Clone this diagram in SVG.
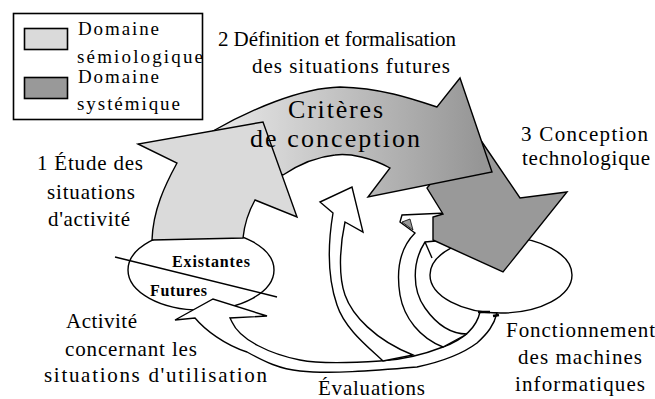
<svg xmlns="http://www.w3.org/2000/svg" width="655" height="399" viewBox="0 0 655 399">
<style>
text{font-family:'Liberation Serif','Times New Roman',serif;fill:#000}
.t{font-size:21px}
.lg{font-size:19px}
.b{font-size:16px;font-weight:bold}
.c{font-size:26px}
.o{stroke:#000;stroke-width:1.4;stroke-linejoin:miter}
.w{fill:#fff}
</style>
<defs>
<linearGradient id="g2" gradientUnits="userSpaceOnUse" x1="230" y1="0" x2="480" y2="0">
<stop offset="0" stop-color="#e4e4e4"/>
<stop offset="1" stop-color="#969696"/>
</linearGradient>
</defs>
<rect width="655" height="399" fill="#fff"/>

<g id="ellipse-situations">
<ellipse class="o w" cx="201" cy="270" rx="73" ry="40"/>
</g>
<g id="ellipse-machines">
<ellipse class="o w" cx="501" cy="275" rx="71" ry="38"/>
</g>

<g id="evaluations">
<path class="o w" d="M480,312 C476,330 462,340 443,347 C420,356 400,360 380,361 C350,363 320,364 300,360 C270,354 240,340 232,322 L230,318 L267,316 L213,299 L175,320 L195,318 C205,330 225,345 247,352 C265,362 280,369 300,371 C330,374 370,371 417,367 C445,361 465,352 477,343 C488,333 494,325 497,313 Z"/>
<path class="o w" d="M383,361 C372,350 345,330 337,305 C330,285 326,255 333,213 L320,202 L352,187 L363,232 L345,222 C340,245 338,275 345,295 C352,315 375,340 413,355 Z"/>
<path class="o w" d="M415,233 L400,222 L402,215 L446,213 L446,240 L425,242 C412,262 412,290 425,308 C437,325 452,334 467,334 L443,347 C420,338 404,318 400,295 C396,270 400,248 415,233 Z"/>
<path class="o" fill="none" d="M425,242 L432,258"/>
<path fill="#999" stroke="#000" stroke-width="0.8" d="M402,222 L410,219 L413,230 Z"/>
<path stroke="#000" stroke-width="2.6" d="M478,312 L490,312 M493,316 L499,315"/>
</g>

<g id="stage3">
<path class="o" fill="#999" d="M482,142 L520,198 L567,192 L503,272 L433,240 L433,217 L443,214 L427,188 L435,178 L470,128 Z"/>
</g>

<g id="stage2">
<path class="o" fill="url(#g2)" d="M240,160 L213,131 C250,110 300,88 340,87 C380,88 410,98 437,107 L460,78 L492,172 L368,197 L390,168 C372,158 350,153 335,155 C315,157 298,165 283,175 L260,165 Z"/>
</g>

<g id="stage1">
<path class="o" fill="#dadada" d="M152,240 L243,238 Q245,218 255,200 L297,217 L263,122 L138,144 L177,163 C165,185 153,210 152,240 Z"/>
</g>

<g id="situations-divider">
<path class="o" fill="none" d="M115,257 L277,297"/>
</g>

<g id="legend">
<rect x="13.5" y="13.5" width="189" height="106" fill="#fff" stroke="#000" stroke-width="1.6"/>
<rect x="24.5" y="28.5" width="43" height="21" fill="#dadada" stroke="#000" stroke-width="1.6"/>
<rect x="24.5" y="77.5" width="43" height="21" fill="#999" stroke="#000" stroke-width="1.6"/>
<text class="lg" x="78" y="35" textLength="81">Domaine</text>
<text class="lg" x="77" y="63" textLength="126">sémiologique</text>
<text class="lg" x="78" y="83" textLength="81">Domaine</text>
<text class="lg" x="77" y="110" textLength="103">systémique</text>
</g>

<g id="labels">
<text class="t" x="521" y="141" textLength="127">3 Conception</text>
<text class="t" x="522" y="165" textLength="128">technologique</text>
<text class="t" x="218" y="46" textLength="238">2 Définition et formalisation</text>
<text class="t" x="252" y="73" textLength="198">des situations futures</text>
<text class="c" x="288" y="118" textLength="95">Critères</text>
<text class="c" x="250" y="147" textLength="170">de conception</text>
<text class="t" x="37" y="170" textLength="106">1 Étude des</text>
<text class="t" x="47" y="199" textLength="88">situations</text>
<text class="t" x="48" y="226" textLength="82">d'activité</text>
<text class="b" x="172" y="267" textLength="78">Existantes</text>
<text class="b" x="150" y="296" textLength="57">Futures</text>
<text class="t" x="66" y="328" textLength="71">Activité</text>
<text class="t" x="65" y="356" textLength="132">concernant les</text>
<text class="t" x="44" y="382" textLength="223">situations d'utilisation</text>
<text class="t" x="318" y="395" textLength="107">Évaluations</text>
<text class="t" x="506" y="337" textLength="149">Fonctionnement</text>
<text class="t" x="518" y="364" textLength="124">des machines</text>
<text class="t" x="515" y="391" textLength="130">informatiques</text>
</g>
</svg>
